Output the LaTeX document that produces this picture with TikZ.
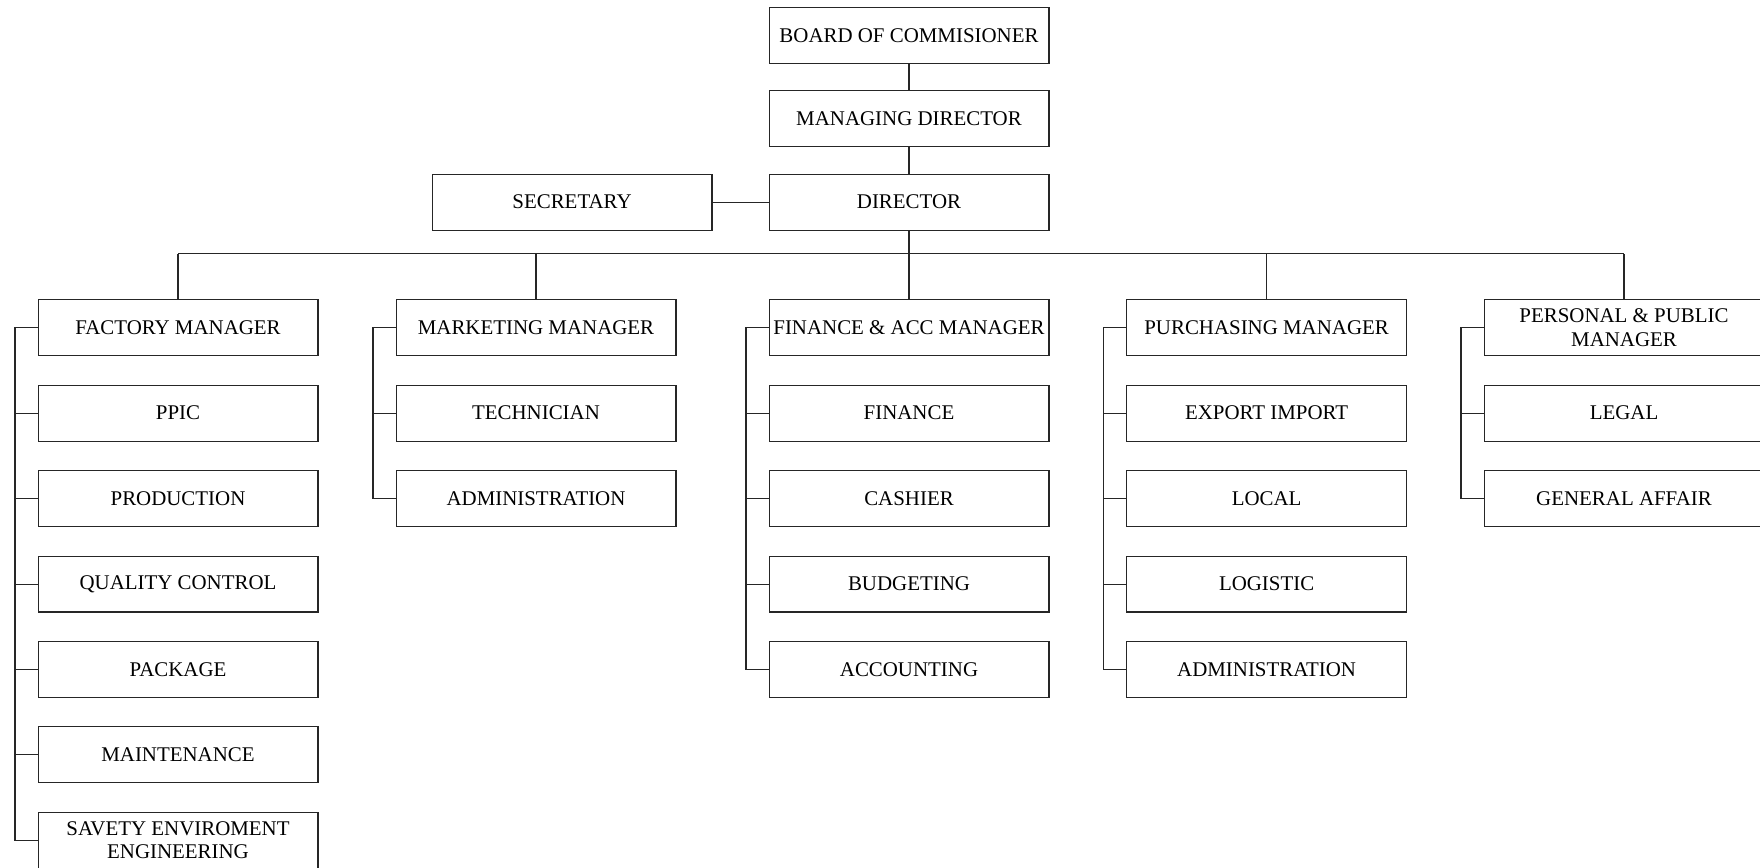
\documentclass[tikz,border=0pt]{standalone}
\usepackage{fontspec}
\setmainfont{Liberation Serif}
\usetikzlibrary{positioning}

\begin{document}
\begin{tikzpicture}[x=0.02cm, y=-0.02cm,
    box/.style={draw=black!85, rectangle, minimum width=5.6cm, minimum height=1.12cm, inner sep=1pt, align=center, line width=0.6pt, font=\fontsize{11.9}{13.2}\selectfont},
    link/.style={draw=black!85, line width=0.6pt},
    node distance=0.568cm
]
\useasboundingbox (0,0) rectangle (1760,867);

% top of the chart
\node[box] (board) at (909,35.5) {BOARD OF COMMISIONER};
\node[box, below=0.52cm of board] (md) {MANAGING DIRECTOR};
\node[box, below=0.53cm of md] (dir) {DIRECTOR};
\node[box, left=1.12cm of dir] (sec) {SECRETARY};

% managers
\node[box] (fac) at (178,327.7) {FACTORY MANAGER};
\node[box] (mkt) at (536,327.7) {MARKETING MANAGER};
\node[box] (fin) at (909,327.7) {FINANCE \& ACC MANAGER};
\node[box] (pur) at (1266.6,327.7) {PURCHASING MANAGER};
\node[box] (per) at (1624,327.7) {PERSONAL \& PUBLIC\\MANAGER};

% factory
\node[box, below=of fac] (ppic) {PPIC};
\node[box, below=of ppic] (prod) {PRODUCTION};
\node[box, below=of prod] (qc) {QUALITY CONTROL};
\node[box, below=of qc] (pack) {PACKAGE};
\node[box, below=of pack] (mnt) {MAINTENANCE};
\node[box, below=of mnt] (sev) {SAVETY ENVIROMENT\\ENGINEERING};

% marketing
\node[box, below=of mkt] (tech) {TECHNICIAN};
\node[box, below=of tech] (madm) {ADMINISTRATION};

% finance
\node[box, below=of fin] (fnc) {FINANCE};
\node[box, below=of fnc] (cash) {CASHIER};
\node[box, below=of cash] (bud) {BUDGETING};
\node[box, below=of bud] (acc) {ACCOUNTING};

% purchasing
\node[box, below=of pur] (exim) {EXPORT IMPORT};
\node[box, below=of exim] (loc) {LOCAL};
\node[box, below=of loc] (log) {LOGISTIC};
\node[box, below=of log] (padm) {ADMINISTRATION};

% personal
\node[box, below=of per] (legal) {LEGAL};
\node[box, below=of legal] (ga) {GENERAL AFFAIR};

% links at the top
\draw[link] (board) -- (md);
\draw[link] (md) -- (dir);
\draw[link] (sec) -- (dir);
\coordinate (bus) at (909,253.7);
\draw[link] (dir.south) -- (bus);
\draw[link] (fac.north |- bus) -- (per.north |- bus);
\foreach \m in {fac,mkt,fin,pur,per}
    \draw[link] (\m.north) -- (\m.north |- bus);

% side brackets
\draw[link] (fac.west) -- ++(-22.5,0) |- (sev.west);
\foreach \c in {ppic,prod,qc,pack,mnt}
    \draw[link] (\c.west) -- ++(-22.5,0);
\draw[link] (mkt.west) -- ++(-22.5,0) |- (madm.west);
\draw[link] (tech.west) -- ++(-22.5,0);
\draw[link] (fin.west) -- ++(-22.5,0) |- (acc.west);
\foreach \c in {fnc,cash,bud}
    \draw[link] (\c.west) -- ++(-22.5,0);
\draw[link] (pur.west) -- ++(-22.5,0) |- (padm.west);
\foreach \c in {exim,loc,log}
    \draw[link] (\c.west) -- ++(-22.5,0);
\draw[link] (per.west) -- ++(-22.5,0) |- (ga.west);
\draw[link] (legal.west) -- ++(-22.5,0);
\end{tikzpicture}
\end{document}
